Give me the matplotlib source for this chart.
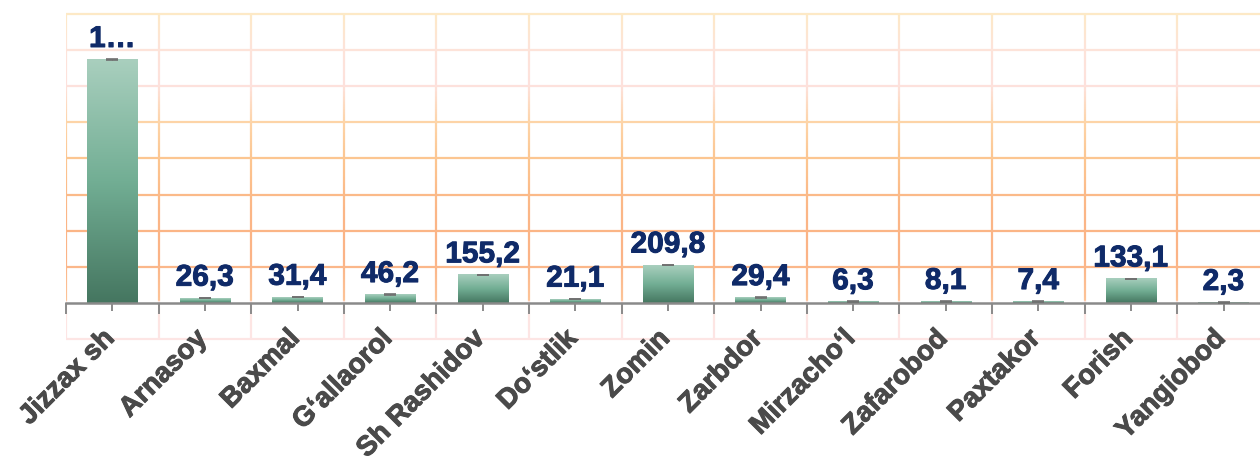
import numpy as np
import matplotlib
matplotlib.use("Agg")
import matplotlib.pyplot as plt
from matplotlib.colors import LinearSegmentedColormap
from matplotlib.collections import LineCollection
import matplotlib.transforms as mtransforms
import matplotlib.patheffects as pe

# districts and values
tumanlar = ["Jizzax sh", "Arnasoy", "Baxmal", "G\u2018allaorol", "Sh Rashidov",
            "Do\u2018stlik", "Zomin", "Zarbdor", "Mirzacho\u2018l", "Zafarobod",
            "Paxtakor", "Forish", "Yangiobod"]
qiymat = [1348.0, 26.3, 31.4, 46.2, 155.2, 21.1, 209.8, 29.4, 6.3, 8.1, 7.4, 133.1, 2.3]
xato = [1.5] * len(qiymat)

yozuv = [f"{v:.1f}".replace(".", ",") for v in qiymat]
yozuv[0] = yozuv[0][0] + "\u2026"   # first label does not fit

ymin, ymax, qadam = -200, 1600, 200

plt.rcParams["font.family"] = ["Liberation Sans", "DejaVu Sans"]

fig = plt.figure(figsize=(12.6, 4.63), dpi=100)
ax = fig.add_axes([66 / 1260, 1 - 339 / 463, 13 * 92.6 / 1260, 325 / 463])
ax.set_xlim(-0.5, len(qiymat) - 0.5)
ax.set_ylim(ymin, ymax)

# grid colour changes from top to bottom
grid_cmap = LinearSegmentedColormap.from_list("setka", [
    (0.0, "#fde5e4"),
    (0.11, "#fde6e2"),
    (0.12, "#fcc397"),
    (0.25, "#fbb386"),
    (0.40, "#fbb686"),
    (0.55, "#fcc590"),
    (0.67, "#fdd4a8"),
    (0.78, "#fde1dc"),
    (0.90, "#fde3d9"),
    (1.0, "#fde9c6"),
])

def rang(y):
    return grid_cmap((y - ymin) / (ymax - ymin))

# horizontal lines
for y in np.arange(ymin, ymax + 1, qadam):
    if y == 0:
        continue
    ax.plot([-0.5, len(qiymat) - 0.5], [y, y], color=rang(y), lw=1.6,
            solid_capstyle="butt", zorder=1, clip_on=False)

# vertical lines, cut into short pieces to carry the colour change
ys = np.linspace(ymin, ymax, 200)
segs, cols = [], []
for xb in np.arange(-0.5, len(qiymat), 1.0):
    for a, b in zip(ys[:-1], ys[1:]):
        segs.append([(xb, a), (xb, b)])
        cols.append(rang((a + b) / 2))
ax.add_collection(LineCollection(segs, colors=cols, linewidths=1.6, zorder=1))

# bars with vertical gradient
bar_cmap = LinearSegmentedColormap.from_list("ustun", ["#457660", "#72ae94", "#a9cfbe"])
grad = np.linspace(0, 1, 256).reshape(-1, 1)
kenglik = 0.54
for i, v in enumerate(qiymat):
    ax.imshow(grad, cmap=bar_cmap, origin="lower", aspect="auto",
              extent=[i - kenglik / 2, i + kenglik / 2, 0, v], zorder=2)
ax.set_xlim(-0.5, len(qiymat) - 0.5)
ax.set_ylim(ymin, ymax)

ax.errorbar(range(len(qiymat)), qiymat, yerr=xato, fmt="none", ecolor="#6f6f6f",
            elinewidth=0.8, capsize=4.5, capthick=1.2, zorder=3)

qalin = [pe.withStroke(linewidth=0.7, foreground="#0f2a68")]
for i, (v, t) in enumerate(zip(qiymat, yozuv)):
    ax.annotate(t, (i, v), xytext=(0, 9), textcoords="offset points",
                ha="center", va="baseline", fontsize=21.5, fontweight="bold",
                color="#0f2a68", zorder=4, path_effects=qalin)

# axis at zero
for s in ["top", "right", "left"]:
    ax.spines[s].set_visible(False)
ax.spines["bottom"].set_position(("data", 0))
ax.spines["bottom"].set_color("#8a8a8a")
ax.spines["bottom"].set_linewidth(1.8)
ax.set_yticks([])

ax.set_xticks(range(len(qiymat)))
ax.set_xticks(np.arange(-0.5, len(qiymat), 1.0), minor=True)
ax.tick_params(axis="x", which="major", length=6, width=1.4, color="#8a8a8a", pad=17)
ax.tick_params(axis="x", which="minor", length=8, width=1.4, color="#8a8a8a")
ax.set_xticklabels(tumanlar, rotation=45, ha="right", va="center",
                   rotation_mode="anchor", fontsize=20, fontweight="bold",
                   color="#4a4a4a")
siljish = mtransforms.ScaledTranslation(-2 / 100, 0, fig.dpi_scale_trans)
kulrang = [pe.withStroke(linewidth=0.7, foreground="#4a4a4a")]
for lbl in ax.get_xticklabels():
    lbl.set_transform(lbl.get_transform() + siljish)
    lbl.set_path_effects(kulrang)

fig.savefig("out.png", dpi=100)
